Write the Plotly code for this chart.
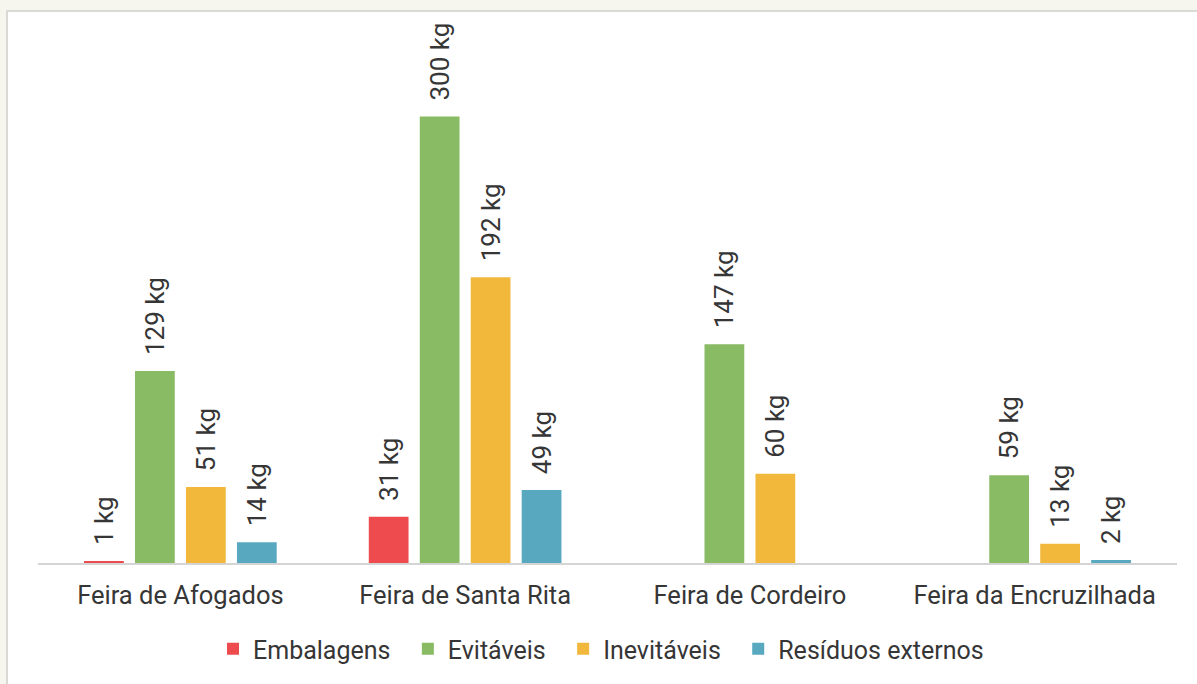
import plotly.graph_objects as go

categories = ["Feira de Afogados", "Feira de Santa Rita", "Feira de Cordeiro", "Feira da Encruzilhada"]
series_names = ["Embalagens", "Evitáveis", "Inevitáveis", "Resíduos externos"]
embalagens = [1, 31, None, None]
evitaveis = [129, 300, 147, 59]
inevitaveis = [51, 192, 60, 13]
residuos = [14, 49, None, 2]
colors = ["#ee4b4e", "#89bb65", "#f1b83b", "#58a8bf"]

series_values = [embalagens, evitaveis, inevitaveis, residuos]

fig = go.Figure()
for name, vals, col in zip(series_names, series_values, colors):
    fig.add_trace(go.Bar(
        name=name + "  ", x=categories, y=vals, marker_color=col, marker_line_width=0,
        text=["" if v is None else "  %d kg" % v for v in vals],
        textposition="outside", textangle=-90, cliponaxis=False, constraintext="none",
        textfont=dict(family="Roboto", size=26, color="#363636"),
    ))

# white panel
L, R, T, B = 38, 20, 42, 121
W, H = 1197, 684
pw, ph = W - L - R, H - T - B
fig.add_shape(type="rect", xref="paper", yref="paper", layer="below",
              x0=(7 - L) / pw, x1=1.2, y0=-0.4, y1=(H - B - 11) / ph,
              fillcolor="white", line=dict(color="#d9d9d5", width=2))

fig.update_layout(
    width=W, height=H, margin=dict(l=L, r=R, t=T, b=B),
    paper_bgcolor="#f6f5ee", plot_bgcolor="rgba(0,0,0,0)",
    barmode="group", bargap=0.284, bargroupgap=0.22,
    font=dict(family="Roboto", size=25, color="#363636"),
    showlegend=True,
    legend=dict(orientation="h", x=0.5, xanchor="center", y=(H - B - 649) / ph, yanchor="middle",
                font=dict(family="Roboto", size=25, color="#363636"), bgcolor="rgba(0,0,0,0)"),
    xaxis=dict(showline=True, linecolor="#d4d4d4", linewidth=2, ticks="outside", ticklen=8,
               tickcolor="rgba(0,0,0,0)", tickfont=dict(family="Roboto", size=25.5, color="#363636"),
               showgrid=False, zeroline=False),
    yaxis=dict(range=[0, 350], visible=False, showgrid=False, zeroline=False),
)

fig.write_html("out.html")
